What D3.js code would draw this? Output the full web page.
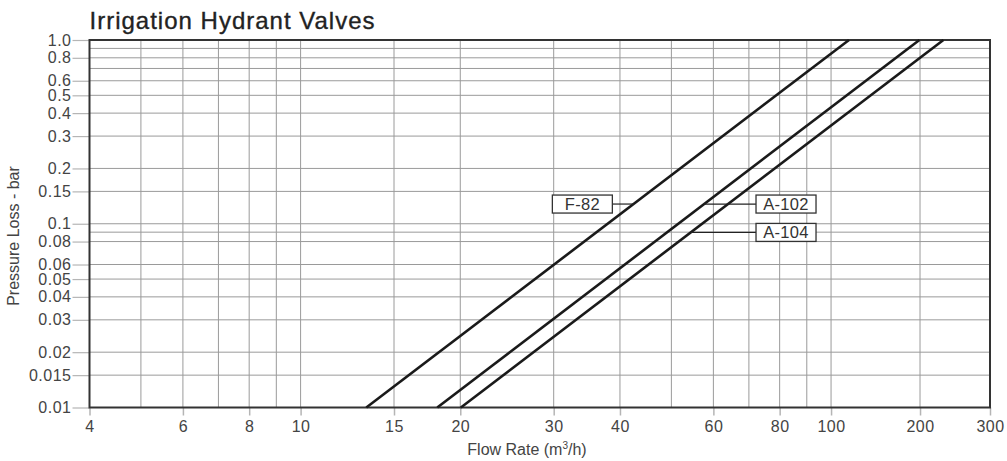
<!DOCTYPE html>
<html>
<head>
<meta charset="utf-8">
<script src="https://cdn.jsdelivr.net/npm/d3@7"></script>
<style>
  html, body { margin: 0; padding: 0; background: #fff; }
  svg { display: block; font-family: "Liberation Sans", Arial, Helvetica, sans-serif; }
</style>
</head>
<body>
<svg id="chart" width="1007" height="461"></svg>
<script>
// ---- data ----
const title = "Irrigation Hydrant Valves";
const xTitle = "Flow Rate (m";
const yTitle = "Pressure Loss - bar";

const xTickValues = [4, 6, 8, 10, 15, 20, 30, 40, 60, 80, 100, 200, 300];
const xGridValues = [5, 6, 7, 8, 9, 10, 15, 20, 30, 40, 50, 60, 70, 80, 90, 100, 200];
const yTickValues = [0.01, 0.015, 0.02, 0.03, 0.04, 0.05, 0.06, 0.08, 0.1, 0.15, 0.2, 0.3, 0.4, 0.5, 0.6, 0.8, 1.0];
const yTickLabels = ["0.01", "0.015", "0.02", "0.03", "0.04", "0.05", "0.06", "0.08", "0.1", "0.15", "0.2", "0.3", "0.4", "0.5", "0.6", "0.8", "1.0"];
const yGridValues = [0.015, 0.02, 0.03, 0.04, 0.05, 0.06, 0.08, 0.09, 0.1, 0.15, 0.2, 0.3, 0.4, 0.5, 0.6, 0.7, 0.8, 0.9];

const seriesNames = ["F-82", "A-102", "A-104"];
// each valve curve: [flow, pressure] at its lower and upper ends
const f82  = [[13.3, 0.01], [115, 1.0]];
const a102 = [[18.1, 0.01], [199, 1.0]];
const a104 = [[20.05, 0.01], [229, 1.0]];
const seriesData = [f82, a102, a104];

// label callouts: box edge flow, pressure at leader, side of box
const labelFlow = [38.7, 72.2, 72.2];
const labelPressure = [0.128, 0.128, 0.0897];
const labelSide = ["left", "right", "right"];

// ---- layout ----
const svg = d3.select("#chart");
const L = 89.5, R = 990, T = 40, B = 407.5;
const W = R - L;

const x = d3.scaleLog()
  .domain([4, 100, 200, 300])
  .range([L, L + 0.8235 * W, L + 0.9223 * W, R]);
const y = d3.scaleLog().domain([0.01, 1.0]).range([B, T]);

// title
svg.append("text")
  .attr("x", L).attr("y", 29)
  .attr("font-size", 24).attr("font-weight", 400)
  .attr("letter-spacing", 1)
  .attr("fill", "#222").attr("stroke", "#222").attr("stroke-width", 0.35)
  .text(title);

// grid
const grid = svg.append("g");
grid.selectAll("line.gx").data(xGridValues).join("line")
  .attr("x1", d => x(d)).attr("x2", d => x(d))
  .attr("y1", T).attr("y2", B)
  .attr("stroke", "#9a9a9a").attr("stroke-width", 1);
grid.selectAll("line.gy").data(yGridValues).join("line")
  .attr("x1", L).attr("x2", R)
  .attr("y1", d => y(d)).attr("y2", d => y(d))
  .attr("stroke", "#9a9a9a").attr("stroke-width", 1);

// axes
const xAxis = d3.axisBottom(x).tickValues(xTickValues).tickFormat(d3.format("d"))
  .tickSize(8).tickPadding(5);
const gx = svg.append("g").attr("transform", `translate(0,${B})`).call(xAxis);
gx.select(".domain").remove();
gx.selectAll(".tick line").attr("stroke", "#b5b5b5").attr("stroke-width", 1.5);
gx.selectAll(".tick text").attr("font-size", 16).attr("fill", "#444")
  .attr("letter-spacing", 0.5)
  .attr("font-family", "'Liberation Sans', Arial, sans-serif");

const yAxis = d3.axisLeft(y).tickValues(yTickValues)
  .tickFormat((d, i) => yTickLabels[i]).tickSize(17).tickPadding(1);
const gy = svg.append("g").attr("transform", `translate(${L},0)`).call(yAxis);
gy.select(".domain").remove();
gy.selectAll(".tick line").attr("stroke", "#b5b5b5").attr("stroke-width", 1.2);
gy.selectAll(".tick text").attr("font-size", 16).attr("fill", "#444")
  .attr("letter-spacing", 0.5)
  .attr("font-family", "'Liberation Sans', Arial, sans-serif");

// frame
svg.append("rect")
  .attr("x", L).attr("y", T).attr("width", W).attr("height", B - T)
  .attr("fill", "none").attr("stroke", "#333").attr("stroke-width", 2);

// series lines
const line = d3.line().x(d => x(d[0])).y(d => y(d[1]));
svg.append("g").selectAll("path").data(seriesData).join("path")
  .attr("d", line)
  .attr("fill", "none").attr("stroke", "#1a1a1a").attr("stroke-width", 2.6);

// pixel x on a series at a given pressure (straight segment in pixel space)
function pxAt(series, p) {
  const x0 = x(series[0][0]), y0 = y(series[0][1]);
  const x1 = x(series[1][0]), y1 = y(series[1][1]);
  const yy = y(p);
  return x0 + (x1 - x0) * (yy - y0) / (y1 - y0);
}

// callouts
const boxW = 60, boxH = 18;
const cg = svg.append("g");
seriesNames.forEach((name, i) => {
  const yy = y(labelPressure[i]);
  const ex = x(labelFlow[i]);
  const lx = pxAt(seriesData[i], labelPressure[i]);
  const bx = labelSide[i] === "left" ? ex - boxW : ex;
  cg.append("line")
    .attr("x1", lx).attr("x2", ex).attr("y1", yy).attr("y2", yy)
    .attr("stroke", "#222").attr("stroke-width", 1.2);
  cg.append("rect")
    .attr("x", bx).attr("y", yy - boxH / 2).attr("width", boxW).attr("height", boxH)
    .attr("fill", "#fff").attr("stroke", "#333").attr("stroke-width", 1.3);
  cg.append("text")
    .attr("x", bx + boxW / 2).attr("y", yy + 6)
    .attr("text-anchor", "middle").attr("font-size", 16.5).attr("fill", "#333")
    .attr("letter-spacing", 0.3)
    .text(name);
});

// axis titles
const xt = svg.append("text")
  .attr("x", 527).attr("y", 455)
  .attr("text-anchor", "middle").attr("font-size", 16).attr("fill", "#444");
xt.append("tspan").text(xTitle);
xt.append("tspan").attr("font-size", 10).attr("dy", -6).text("3");
xt.append("tspan").attr("dy", 6).text("/h)");

svg.append("text")
  .attr("transform", "translate(19,236) rotate(-90)")
  .attr("text-anchor", "middle").attr("font-size", 16).attr("fill", "#444")
  .text(yTitle);
</script>
</body>
</html>
